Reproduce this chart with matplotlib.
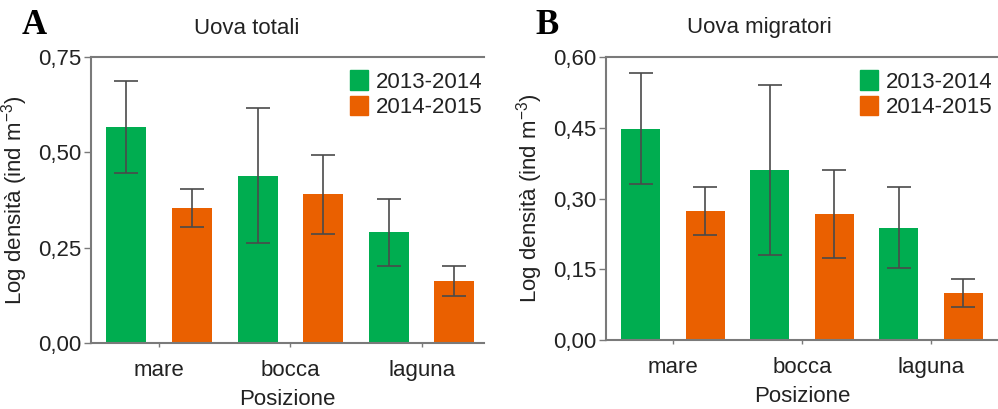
import matplotlib
matplotlib.use("Agg")
import matplotlib.pyplot as plt
import numpy as np
from matplotlib.patches import Patch

plt.rcParams["font.family"] = ["Liberation Sans", "DejaVu Sans"]
plt.rcParams["mathtext.fontset"] = "custom"
plt.rcParams["mathtext.rm"] = "Liberation Sans"
plt.rcParams["mathtext.default"] = "rm"

positions = ["mare", "bocca", "laguna"]
seasons = ["2013-2014", "2014-2015"]

# Panel A: total eggs, mean and error per position
total_mean = {"2013-2014": [0.567, 0.439, 0.290], "2014-2015": [0.353, 0.390, 0.163]}
total_err = {"2013-2014": [0.120, 0.178, 0.088], "2014-2015": [0.050, 0.103, 0.040]}

# Panel B: migratory species eggs
migr_mean = {"2013-2014": [0.448, 0.361, 0.238], "2014-2015": [0.274, 0.267, 0.100]}
migr_err = {"2013-2014": [0.118, 0.180, 0.086], "2014-2015": [0.051, 0.094, 0.030]}

colors = {"2013-2014": "#00AD50", "2014-2015": "#EA6000"}
spine_color = "#7a7a7a"
FS = 16

fig = plt.figure(figsize=(9.98, 4.09), dpi=100)
W, H = 998, 409


def px_axes(left, top, right, bottom):
    return fig.add_axes([left / W, 1 - bottom / H, (right - left) / W, (bottom - top) / H])


def draw_panel(ax, means, errs, yticks, ylabels, xmax, legend_x):
    x = np.arange(len(positions))
    for i, season in enumerate(seasons):
        ax.bar(x + (i - 0.5) * 0.5, means[season], width=0.305, color=colors[season],
               yerr=errs[season], capsize=8.5,
               error_kw=dict(ecolor="#4a4a4a", elinewidth=1.2, capthick=1.2))
    ax.set_xlim(-0.52, xmax)
    ax.set_ylim(0, yticks[-1])
    ax.set_yticks(yticks)
    ax.set_yticklabels(ylabels)
    ax.set_xticks(x)
    ax.set_xticklabels(positions)
    ax.tick_params(axis="both", labelsize=FS, colors="#222222", length=5, width=1, pad=2)
    ax.tick_params(axis="both", color=spine_color)
    ax.tick_params(axis="x", length=3, pad=9)
    for side in ("left", "bottom", "top"):
        ax.spines[side].set_color(spine_color)
        ax.spines[side].set_linewidth(1.5)
    ax.spines["right"].set_visible(False)
    ax.set_xlabel("Posizione", fontsize=FS, color="#222222", labelpad=6)
    ax.set_ylabel("Log densità (ind m$^{-3}$)", fontsize=FS, color="#222222", labelpad=6)
    handles = [Patch(color=colors[s], label=s) for s in seasons]
    ax.legend(handles=handles, loc="upper left", bbox_to_anchor=(legend_x, 1.0),
              frameon=False, fontsize=FS, handlelength=0.8, handleheight=0.95,
              handletextpad=0.35, labelspacing=0.15, borderaxespad=0.2,
              labelcolor="#222222")


ax_a = px_axes(91, 57, 484, 343)
draw_panel(ax_a, total_mean, total_err, [0, 0.25, 0.5, 0.75],
           ["0,00", "0,25", "0,50", "0,75"], 2.475, 0.625)

ax_b = px_axes(606, 57, 998, 340)
draw_panel(ax_b, migr_mean, migr_err, [0, 0.15, 0.30, 0.45, 0.60],
           ["0,00", "0,15", "0,30", "0,45", "0,60"], 2.52, 0.615)

fig.text(247 / W, 1 - 28 / H, "Uova totali", fontsize=FS, ha="center", va="center",
         color="#222222")
fig.text(759 / W, 1 - 28 / H, "Uova migratori", fontsize=FS, ha="center", va="center",
         color="#222222")
fig.text(34 / W, 1 - 26 / H, "A", fontsize=25, fontweight="bold", ha="center", va="center",
         family="Liberation Serif")
fig.text(547 / W, 1 - 26 / H, "B", fontsize=25, fontweight="bold", ha="center", va="center",
         family="Liberation Serif")

fig.savefig("out.png", dpi=100)
